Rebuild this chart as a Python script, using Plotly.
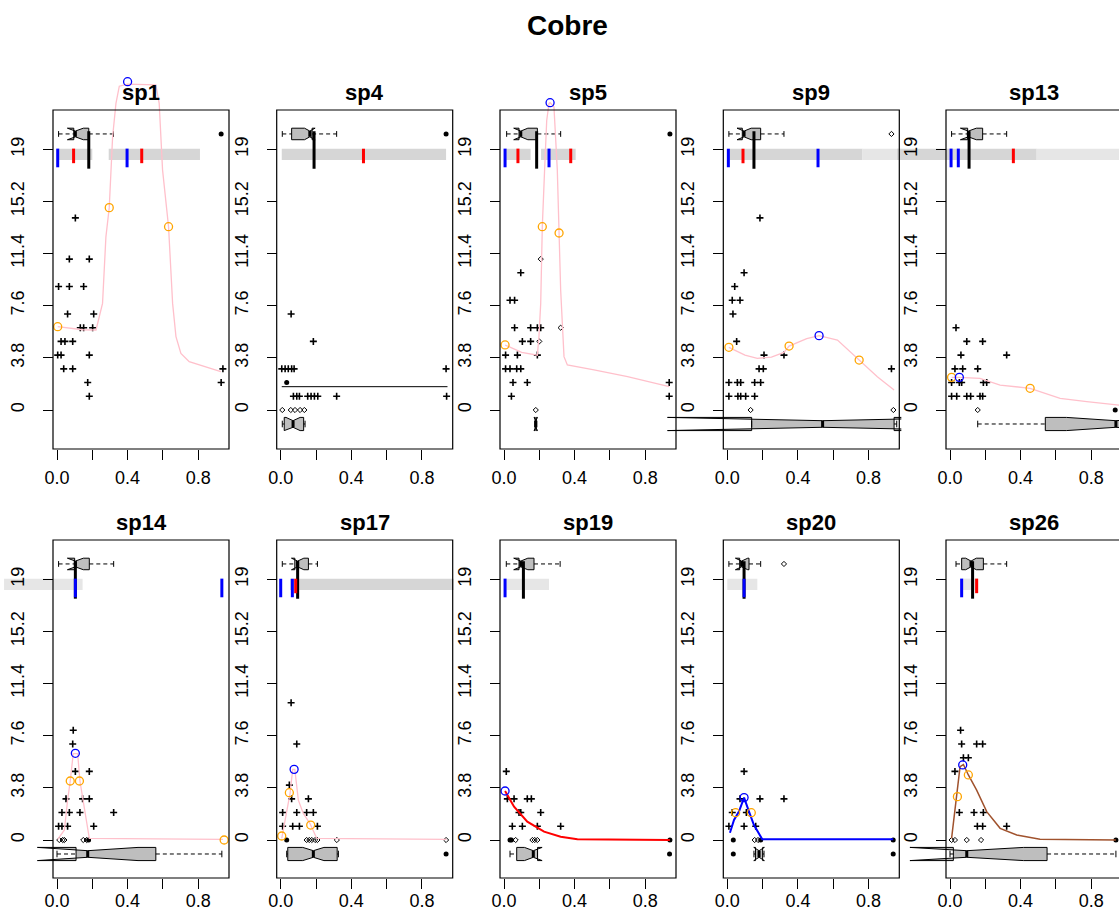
import plotly.graph_objects as go

W, H = 1119, 914

# ---------------- data ----------------
species = ["sp1", "sp4", "sp5", "sp9", "sp13", "sp14", "sp17", "sp19", "sp20", "sp26"]
main_title = "Cobre"
x_ticks = [0.0, 0.2, 0.4, 0.6, 0.8]
x_tick_text = ["0.0", "", "0.4", "", "0.8"]
y_ticks = [0, 3.8, 7.6, 11.4, 15.2, 19]
y_tick_text = ["0", "3.8", "7.6", "11.4", "15.2", "19"]

# "+" observations
pts_x = [
    [0.104, 0.07, 0.183, 0.009, 0.07, 0.151, 0.06, 0.208, 0.132, 0.151, 0.202, 0.023, 0.045, 0.089, 0.004, 0.023, 0.183, 0.038, 0.089, 0.94, 0.174, 0.93, 0.183],
    [0.059, 0.185, 0.006, 0.025, 0.043, 0.062, 0.076, 0.937, 0.072, 0.091, 0.106, 0.153, 0.172, 0.191, 0.21, 0.317, 0.94],
    [0.095, 0.034, 0.06, 0.06, 0.151, 0.189, 0.208, 0.104, 0.151, 0.009, 0.076, 0.189, 0.009, 0.034, 0.072, 0.095, 0.051, 0.132, 0.042, 0.936, 0.936],
    [0.185, 0.095, 0.042, 0.028, 0.072, 0.032, 0.053, 0.208, 0.321, 0.18, 0.204, 0.93, 0.009, 0.057, 0.076, 0.155, 0.189, 0.009, 0.06, 0.076, 0.104, 0.155],
    [0.034, 0.095, 0.185, 0.062, 0.321, 0.028, 0.072, 0.157, 0.009, 0.053, 0.066, 0.189, 0.208, 0.009, 0.038, 0.095, 0.117, 0.17, 0.185],
    [0.092, 0.089, 0.104, 0.183, 0.051, 0.145, 0.183, 0.028, 0.07, 0.13, 0.321, 0.009, 0.028, 0.06, 0.208],
    [0.059, 0.091, 0.049, 0.062, 0.157, 0.011, 0.091, 0.147, 0.185, 0.011, 0.068, 0.106, 0.208],
    [0.013, 0.019, 0.057, 0.132, 0.155, 0.085, 0.095, 0.208, 0.047, 0.104, 0.189, 0.321],
    [0.095, 0.072, 0.185, 0.321, 0.028, 0.108, 0.009, 0.095, 0.161],
    [0.06, 0.066, 0.151, 0.185, 0.076, 0.104, 0.028, 0.053, 0.136, 0.189, 0.155, 0.185, 0.321],
]
pts_y = [
    [14, 11, 11, 9, 9, 9, 7, 7, 6, 6, 6, 5, 5, 5, 4, 4, 4, 3, 3, 3, 2, 2, 1],
    [7, 5, 3, 3, 3, 3, 3, 3, 1, 1, 1, 1, 1, 1, 1, 1, 1],
    [10, 8, 8, 6, 6, 6, 6, 5, 5, 4, 4, 4, 3, 3, 3, 3, 2, 2, 1, 2, 1],
    [14, 10, 9, 8, 8, 7, 5, 4, 4, 3, 3, 3, 2, 2, 2, 2, 2, 1, 1, 1, 1, 1],
    [6, 5, 5, 4, 4, 3, 3, 3, 2, 2, 2, 2, 2, 1, 1, 1, 1, 1, 1],
    [8, 7, 5, 5, 3, 3, 3, 2, 2, 2, 2, 1, 1, 1, 1],
    [10, 7, 4, 3, 3, 2, 2, 2, 2, 1, 1, 1, 1],
    [5, 3, 3, 3, 3, 2, 2, 2, 1, 1, 1, 1],
    [5, 3, 3, 3, 2, 2, 1, 1, 1],
    [8, 7, 7, 7, 6, 6, 5, 2, 2, 2, 1, 1, 1],
]

# small open diamonds
dia_x = [
    [],
    [0.009, 0.057, 0.081, 0.11, 0.134],
    [0.18, 0.208, 0.321, 0.2],
    [0.132, 0.941, 0.93],
    [0.157],
    [0.013, 0.032, 0.042, 0.149, 0.168],
    [0.147, 0.162, 0.176, 0.195, 0.208, 0.937, 0.318],
    [0.066, 0.161, 0.174, 0.189],
    [0.155, 0.174, 0.321],
    [0.009, 0.028, 0.095, 0.176],
]
dia_y = [
    [],
    [0, 0, 0, 0, 0],
    [0, 11, 6, 5],
    [0, 0, 20.12],
    [0],
    [0, 0, 0, 0, 0],
    [0, 0, 0, 0, 0, 0, 0],
    [0, 0, 0, 0],
    [0, 0, 20.12],
    [0, 0, 0, 0],
]

# filled dots (incl. box-plot outliers)
dot_x = [
    [0.93],
    [0.034, 0.937],
    [0.94],
    [],
    [0.936],
    [0.179],
    [0.034, 0.937],
    [0.034, 0.042, 0.94, 0.938],
    [0.034, 0.189, 0.94, 0.034, 0.94],
    [0.94],
]
dot_y = [
    [20.12],
    [2, 20.12],
    [20.12],
    [],
    [0],
    [0],
    [0, -1.02],
    [0, 0, 0, -1.02],
    [0, 0, 0, -1.02, -1.02],
    [0],
]

# response curves
curve_x = [
    [0.004, 0.145, 0.221, 0.258, 0.277, 0.296, 0.315, 0.334, 0.353, 0.4, 0.56, 0.579, 0.598, 0.617, 0.632, 0.645, 0.655, 0.674, 0.702, 0.749, 0.806, 0.928],
    [0.006, 0.945],
    [0.006, 0.1, 0.189, 0.198, 0.208, 0.217, 0.23, 0.242, 0.255, 0.261, 0.283, 0.302, 0.312, 0.321, 0.34, 0.359, 0.51, 0.70, 0.936],
    [0.009, 0.1, 0.17, 0.25, 0.321, 0.35, 0.45, 0.52, 0.624, 0.747, 0.85, 0.945],
    [0.009, 0.053, 0.17, 0.284, 0.454, 0.624, 0.775, 0.958],
    [0.004, 0.042, 0.06, 0.075, 0.092, 0.117, 0.13, 0.155, 0.183, 0.94],
    [0.006, 0.034, 0.053, 0.068, 0.08, 0.1, 0.128, 0.166, 0.204, 0.94],
    [0.006, 0.057, 0.132, 0.227, 0.321, 0.416, 0.94],
    [0.015, 0.038, 0.066, 0.095, 0.123, 0.151, 0.198, 0.94],
    [0.009, 0.038, 0.057, 0.076, 0.104, 0.151, 0.208, 0.284, 0.378, 0.51, 0.94],
]
curve_y = [
    [6.07, 5.85, 5.83, 7.77, 12.6, 14.75, 19.9, 22.35, 23.6, 23.75, 23.7, 22.35, 17.5, 15.06, 13.36, 10.2, 7.77, 5.35, 4.13, 3.52, 3.28, 2.8],
    [1.7, 1.7],
    [4.74, 4.2, 4.0, 5.35, 7.77, 13.36, 17.5, 21.1, 22.35, 22.4, 22.1, 17.5, 12.9, 8.75, 3.89, 3.28, 2.92, 2.43, 1.70],
    [4.57, 4.0, 3.77, 3.85, 4.2, 4.66, 5.2, 5.42, 5.1, 3.64, 2.43, 1.46],
    [2.38, 2.38, 2.31, 1.82, 1.58, 0.85, 0.61, 0.36],
    [0.05, 0.73, 2.9, 4.3, 6.3, 6.3, 4.3, 2.19, 0.12, 0.05],
    [0.12, 1.94, 3.4, 5.15, 5.15, 2.9, 1.94, 1.2, 0.12, 0.05],
    [3.57, 2.43, 1.34, 0.61, 0.24, 0.05, 0.0],
    [0.53, 1.46, 2.07, 3.09, 2.07, 1.09, 0.05, 0.05],
    [0.12, 3.16, 5.35, 5.5, 4.74, 3.64, 2.07, 0.85, 0.36, 0.05, 0.0],
]
curve_color = ["pink", "black", "pink", "pink", "pink", "pink", "pink", "red", "blue", "sienna"]
curve_width = [1.3, 1, 1.3, 1.3, 1.3, 1.3, 1.3, 2, 2, 1.5]

orange_x = [[0.004, 0.296, 0.632], [], [0.006, 0.217, 0.312], [0.009, 0.35, 0.747], [0.009, 0.454],
            [0.075, 0.127, 0.947], [0.006, 0.049, 0.17], [], [0.047, 0.136], [0.042, 0.104]]
orange_y = [[6.07, 14.75, 13.36], [], [4.74, 13.36, 12.9], [4.57, 4.66, 3.64], [2.38, 1.58],
            [4.3, 4.3, 0.0], [0.29, 3.45, 1.09], [], [1.99, 1.99], [3.16, 4.74]]
peak_x = [[0.4], [], [0.261], [0.52], [0.053], [0.104], [0.076], [0.006], [0.095], [0.072]]
peak_y = [[23.93], [], [22.4], [5.42], [2.38], [6.32], [5.15], [3.57], [3.09], [5.47]]

# top box plots: lower whisker, q1, median, q3, upper whisker, notch half-span
top_lo = [0.009, 0.009, 0.015, 0.009, 0.009, 0.009, 0.009, 0.013, 0.009, 0.034]
top_q1 = [0.095, 0.062, 0.085, 0.085, 0.100, 0.100, 0.080, 0.085, 0.070, 0.066]
top_med = [0.104, 0.165, 0.095, 0.095, 0.104, 0.104, 0.096, 0.095, 0.081, 0.119]
top_q3 = [0.180, 0.178, 0.189, 0.189, 0.185, 0.183, 0.157, 0.170, 0.123, 0.189]
top_hi = [0.320, 0.317, 0.321, 0.321, 0.321, 0.321, 0.208, 0.318, 0.189, 0.321]
top_notch = [0.045, 0.03, 0.04, 0.04, 0.045, 0.045, 0.035, 0.04, 0.035, 0.03]

# bottom box plots (None = absent)
bot_lo = [None, 0.009, 0.175, 0.138, 0.157, 0.0, 0.034, 0.034, 0.151, 0.0]
bot_q1 = [None, 0.02, 0.177, 0.138, 0.54, 0.108, 0.04, 0.072, 0.16, 0.019]
bot_med = [None, 0.07, 0.18, 0.54, 0.94, 0.174, 0.185, 0.166, 0.18, 0.095]
bot_q3 = [None, 0.13, 0.183, 0.945, 0.99, 0.56, 0.32, 0.19, 0.2, 0.55]
bot_hi = [None, 0.138, 0.185, 0.96, 0.99, 0.934, 0.327, 0.19, 0.208, 0.94]
bot_notch = [None, 0.04, 0.01, 0.88, 0.28, 0.285, 0.06, 0.05, 0.03, 0.322]

# grey range bands (start, end)
band_dark = [[(0.0, 0.2), (0.293, 0.81)], [(0.006, 0.937)], [(0.01, 0.151), (0.21, 0.406)], [(0.0, 0.766)],
             [(-0.3, 0.491)], [], [(0.053, 0.98)], [], [], []]
band_light = [[], [], [], [(0.766, 1.25)], [(0.491, 1.2)], [(-0.3, 0.145)], [], [(0.009, 0.255)],
              [(0.0, 0.17)], [(0.06, 0.16)]]

blue_marks = [[0.004, 0.397], [], [0.006, 0.255], [0.006, 0.514], [0.006, 0.047], [0.104, 0.934],
              [0.0, 0.066], [0.006], [0.095], [0.066]]
red_marks = [[0.094, 0.48], [0.469], [0.079, 0.378], [0.089], [0.359], [], [0.085], [], [], [0.151]]
black_mark = [0.18, 0.189, 0.185, 0.151, 0.108, 0.104, 0.096, 0.11, 0.095, 0.128]

# ---------------- layout geometry (pixels) ----------------
lefts = [53, 276.7, 500, 723.3, 946]
tops = [110, 540]
bottoms = [449, 878]
zero_px = [410, 840]
x_label_standoff = [2, -4]
PW = 176
XS = 176.5   # px per x unit
YS = 13.72   # px per y unit
FONT = "Liberation Sans, Arial, sans-serif"

TOP_Y, TOP_W = 20.12, 0.42
BOT_Y, BOT_W = -1.02, 0.48
BAND_Y0, BAND_Y1 = 18.22, 19.05
MARK_Y0, MARK_Y1 = 17.69, 19.05
BOX_FILL = "#bebebe"

fig = go.Figure()
shapes = []
annotations = []


def seg_lines(xs, y0, y1):
    X, Y = [], []
    for x in xs:
        X += [x, x, None]
        Y += [y0, y1, None]
    return X, Y


def rects(pairs, y0, y1):
    X, Y = [], []
    for a, b in pairs:
        X += [a, b, b, a, a, None]
        Y += [y0, y0, y1, y1, y0, None]
    return X, Y


def add_box(lo, q1, med, q3, hi, notch, pos, w, common):
    """R-style notched horizontal box plot built from its statistics."""
    cl, cu = med - notch, med + notch
    px = [q1, q1, cl, med, cu, q3, q3, cu, med, cl, q1]
    py = [pos - w, pos + w, pos + w, pos + 0.5 * w, pos + w, pos + w,
          pos - w, pos - w, pos - 0.5 * w, pos - w, pos - w]
    fig.add_trace(go.Scatter(x=px, y=py, mode="lines", fill="toself", fillcolor=BOX_FILL,
                             line=dict(color="black", width=1), **common))
    fig.add_trace(go.Scatter(x=[lo, q1, None, q3, hi], y=[pos, pos, None, pos, pos], mode="lines",
                             line=dict(color="black", width=1, dash="4px,3px"), **common))
    fig.add_trace(go.Scatter(x=[lo, lo, None, hi, hi],
                             y=[pos - 0.5 * w, pos + 0.5 * w, None, pos - 0.5 * w, pos + 0.5 * w],
                             mode="lines", line=dict(color="black", width=1), **common))
    fig.add_trace(go.Scatter(x=[med, med], y=[pos - 0.5 * w, pos + 0.5 * w], mode="lines",
                             line=dict(color="black", width=3), **common))


for i, name in enumerate(species):
    row, col = divmod(i, 5)
    L, T, B, Y0 = lefts[col], tops[row], bottoms[row], zero_px[row]
    X0 = L + 4
    dl, dr = max(0.0, L - 56), min(float(W), L + PW + 2)
    dt, db = T - 55, B
    n = "" if i == 0 else str(i + 1)
    xa, ya = "x" + n, "y" + n

    fig.layout["xaxis" + n] = dict(
        domain=[dl / W, dr / W], range=[(dl - X0) / XS, (dr - X0) / XS], type="linear",
        anchor="free", position=1 - B / H, showgrid=False, zeroline=False, showline=False,
        tickvals=x_ticks, ticktext=x_tick_text, ticks="outside", ticklen=10, tickwidth=1,
        tickcolor="black", ticklabelstandoff=x_label_standoff[row], automargin=False,
        tickfont=dict(family=FONT, size=18, color="black"))
    fig.layout["yaxis" + n] = dict(
        domain=[1 - db / H, 1 - dt / H], range=[(Y0 - db) / YS, (Y0 - dt) / YS], type="linear",
        anchor="free", position=L / W, showgrid=False, zeroline=False, showline=False,
        tickvals=y_ticks, ticktext=y_tick_text, ticks="outside", ticklen=10, tickwidth=1,
        tickcolor="black", tickangle=-90, ticklabelstandoff=12, automargin=False,
        tickfont=dict(family=FONT, size=18, color="black"))

    common = dict(xaxis=xa, yaxis=ya, showlegend=False, hoverinfo="skip")

    # grey bands
    if band_dark[i]:
        bx, by = rects(band_dark[i], BAND_Y0, BAND_Y1)
        fig.add_trace(go.Scatter(x=bx, y=by, mode="lines", fill="toself", fillcolor="#d6d6d6",
                                 line=dict(width=0, color="#d6d6d6"), **common))
    if band_light[i]:
        bx, by = rects(band_light[i], BAND_Y0, BAND_Y1)
        fig.add_trace(go.Scatter(x=bx, y=by, mode="lines", fill="toself", fillcolor="#e6e6e6",
                                 line=dict(width=0, color="#e6e6e6"), **common))

    # box plots
    add_box(top_lo[i], top_q1[i], top_med[i], top_q3[i], top_hi[i], top_notch[i], TOP_Y, TOP_W, common)
    if bot_med[i] is not None:
        add_box(bot_lo[i], bot_q1[i], bot_med[i], bot_q3[i], bot_hi[i], bot_notch[i], BOT_Y, BOT_W, common)

    # vertical marks
    mx, my = seg_lines([black_mark[i]], MARK_Y0 - 0.1, TOP_Y + 0.2)
    fig.add_trace(go.Scatter(x=mx, y=my, mode="lines", line=dict(color="black", width=3), **common))
    if blue_marks[i]:
        mx, my = seg_lines(blue_marks[i], MARK_Y0, MARK_Y1)
        fig.add_trace(go.Scatter(x=mx, y=my, mode="lines", line=dict(color="blue", width=3), **common))
    if red_marks[i]:
        mx, my = seg_lines(red_marks[i], MARK_Y0 + 0.3, MARK_Y1)
        fig.add_trace(go.Scatter(x=mx, y=my, mode="lines", line=dict(color="red", width=3), **common))

    # observations
    fig.add_trace(go.Scatter(x=pts_x[i], y=pts_y[i], mode="markers",
                             marker=dict(symbol="cross-thin", size=5, color="black",
                                         line=dict(color="black", width=1.6)), **common))
    if dia_x[i]:
        fig.add_trace(go.Scatter(x=dia_x[i], y=dia_y[i], mode="markers",
                                 marker=dict(symbol="diamond-open", size=4, color="black",
                                             line=dict(color="black", width=1)), **common))
    if dot_x[i]:
        fig.add_trace(go.Scatter(x=dot_x[i], y=dot_y[i], mode="markers",
                                 marker=dict(symbol="circle", size=5, color="black"), **common))

    # curve
    fig.add_trace(go.Scatter(x=curve_x[i], y=curve_y[i], mode="lines",
                             line=dict(color=curve_color[i], width=curve_width[i]), **common))
    if orange_x[i]:
        fig.add_trace(go.Scatter(x=orange_x[i], y=orange_y[i], mode="markers",
                                 marker=dict(symbol="circle-open", size=8, color="orange",
                                             line=dict(width=1.3)), **common))
    if peak_x[i]:
        fig.add_trace(go.Scatter(x=peak_x[i], y=peak_y[i], mode="markers",
                                 marker=dict(symbol="circle-open", size=8, color="blue",
                                             line=dict(width=1.3)), **common))

    # frame
    shapes.append(dict(type="rect", xref="paper", yref="paper", x0=L / W, x1=(L + PW) / W,
                       y0=1 - B / H, y1=1 - T / H, line=dict(color="black", width=1.2),
                       fillcolor="rgba(0,0,0,0)", layer="above"))
    annotations.append(dict(text="<b>" + name + "</b>", xref="paper", yref="paper",
                            x=(L + PW / 2) / W, y=1 - (T - 18) / H, xanchor="center", yanchor="middle",
                            showarrow=False, font=dict(family=FONT, size=22, color="black")))

annotations.append(dict(text="<b>" + main_title + "</b>", xref="paper", yref="paper",
                        x=567 / W, y=1 - 25 / H, xanchor="center", yanchor="middle", showarrow=False,
                        font=dict(family=FONT, size=28, color="black")))

fig.update_layout(width=W, height=H, autosize=False,
                  margin=dict(l=0, r=0, t=0, b=0, pad=0, autoexpand=False),
                  showlegend=False, paper_bgcolor="white", plot_bgcolor="rgba(0,0,0,0)",
                  shapes=shapes, annotations=annotations)

fig.write_html("out.html")
